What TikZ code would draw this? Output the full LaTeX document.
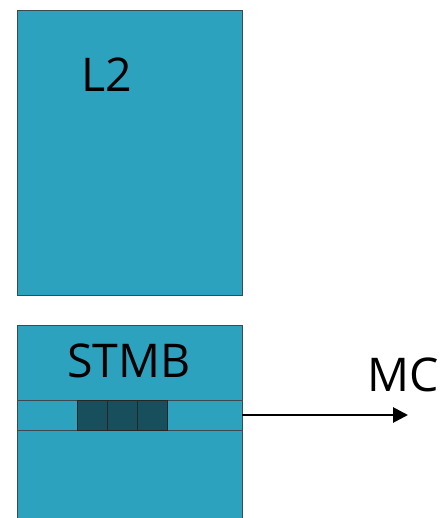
\documentclass[tikz,border=0pt]{standalone}
\usepackage{fontspec}
\setmainfont{Open Sans}
\usetikzlibrary{arrows.meta}
\definecolor{boxfill}{HTML}{2CA2BF}
\definecolor{cellfill}{HTML}{174F5D}
\definecolor{boxline}{HTML}{3A4A4F}
\begin{document}
\begin{tikzpicture}[x=1pt,y=-1pt,
  blockbox/.style={draw=boxline,fill=boxfill,line width=0.9pt},
  cellbox/.style={draw=black!85,fill=cellfill,line width=1pt},
  lbl/.style={font=\fontsize{46.5}{46.5}\selectfont,inner sep=0pt,anchor=base}]
\useasboundingbox (0,0) rectangle (441,518);
\begin{scope}
\clip (0,0) rectangle (441,518);
\draw[blockbox] (17,10) rectangle (242,295);
\draw[blockbox] (17,325) rectangle (242,530);
\draw[blockbox] (17,400) rectangle (242,430);
\node[cellbox,minimum width=30pt,minimum height=30pt,inner sep=0pt] (c1) at (92,415) {};
\node[cellbox,minimum width=30pt,minimum height=30pt,inner sep=0pt] (c2) at (122,415) {};
\node[cellbox,minimum width=30pt,minimum height=30pt,inner sep=0pt] (c3) at (152,415) {};
\end{scope}
\coordinate (s) at (242,415);
\coordinate (e) at (408,415);
\draw[line width=2.8pt,-{Triangle[length=15pt,width=15pt]}] (s) -- (e);
\node[lbl] (l2) at (107,92) {L2};
\node[lbl] (stmb) at (129,377) {STMB};
\node[lbl] (mc) at (403,391) {MC};
\end{tikzpicture}
\end{document}
